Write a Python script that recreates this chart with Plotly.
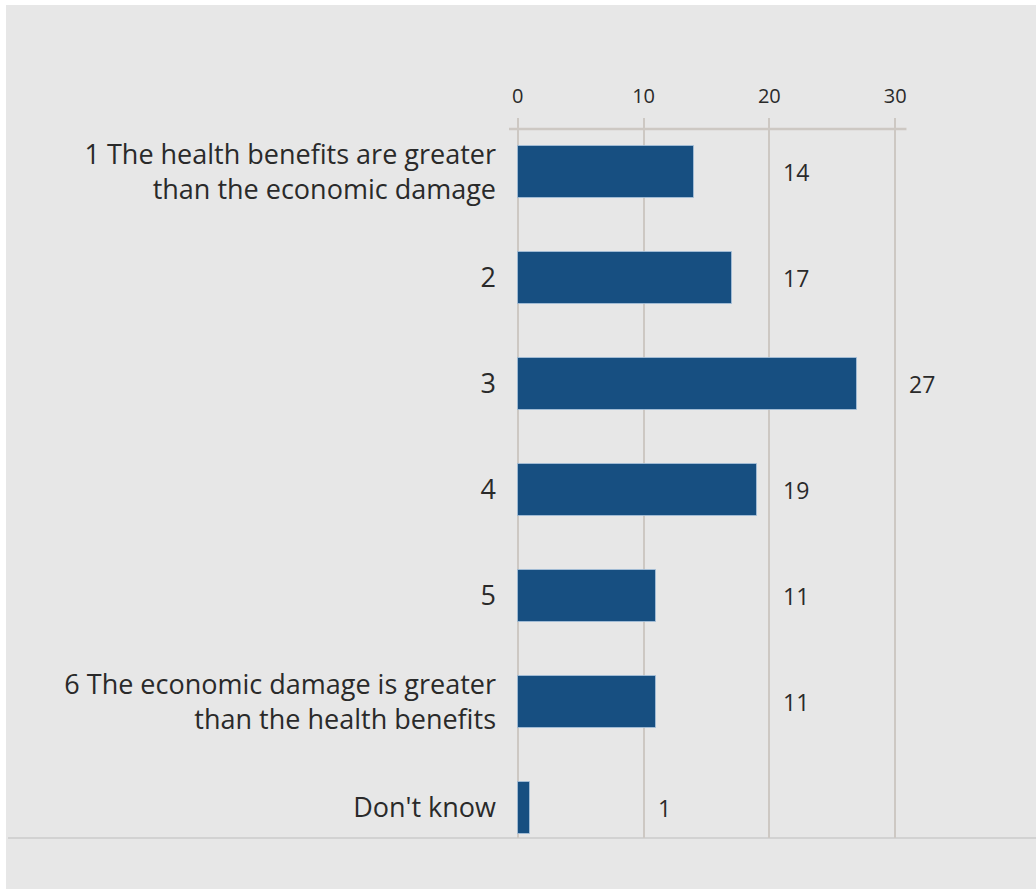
import math
import plotly.graph_objects as go

# Survey answers: health benefits vs. economic damage (percent)
categories = [
    "1 The health benefits are greater<br>than the economic damage",
    "2",
    "3",
    "4",
    "5",
    "6 The economic damage is greater<br>than the health benefits",
    "Don't know",
]
values = [14, 17, 27, 19, 11, 11, 1]
tick_values = [0, 10, 20, 30]
tick_labels = ["0", "10", "20", "30"]

W, H = 1036, 889
# plot-area pixel edges
PL, PR, PT, PB = 509, 1036, 118, 838
PW, PH = PR - PL, PB - PT


def px(xpix):
    return (xpix - PL) / PW


def py(ypix):
    return (PB - ypix) / PH


BAR = "#174f81"
TXT = "#2a2a2a"
GRID = "#cdc8c3"
BG = "#e7e7e7"
FONT = "Open Sans"

fig = go.Figure()
fig.add_trace(go.Bar(
    x=values,
    y=categories,
    orientation="h",
    width=0.49,
    marker=dict(color=BAR, line=dict(color="rgba(170,195,220,0.8)", width=1)),
    hoverinfo="x+y",
))

# value labels sit just past the next gridline (y given as category index)
annotations = []
for i, v in enumerate(values):
    annotations.append(dict(
        x=math.ceil(v / 10) * 10, y=i, xref="x", yref="y",
        text=str(v), showarrow=False, xanchor="left", xshift=12,
        font=dict(family=FONT, size=23, color=TXT),
    ))

shapes = [
    # grey panel with thin white border top/left
    dict(type="rect", xref="paper", yref="paper",
         x0=px(6), x1=px(W), y0=py(H), y1=py(5),
         fillcolor=BG, line=dict(width=0), layer="below"),
    # top axis line
    dict(type="line", xref="x", yref="paper",
         x0=-0.7, x1=30.9, y0=py(129), y1=py(129),
         line=dict(color=GRID, width=2.5), layer="below"),
    # baseline under the chart
    dict(type="line", xref="paper", yref="paper",
         x0=px(8), x1=1, y0=py(838), y1=py(838),
         line=dict(color="#d2d2d2", width=2), layer="below"),
]

fig.update_layout(
    width=W, height=H,
    margin=dict(l=PL, r=W - PR, t=PT, b=H - PB),
    paper_bgcolor="white",
    plot_bgcolor="rgba(0,0,0,0)",
    showlegend=False,
    bargap=0,
    font=dict(family=FONT, color=TXT),
    annotations=annotations,
    shapes=shapes,
    xaxis=dict(
        side="top", range=[-0.7, 41.2],
        tickmode="array", tickvals=tick_values, ticktext=tick_labels,
        showgrid=True, gridcolor=GRID, gridwidth=2,
        zeroline=False, showline=False, ticks="",
        ticklabelstandoff=10,
        tickfont=dict(family=FONT, size=20, color=TXT),
    ),
    yaxis=dict(
        type="category", categoryorder="array", categoryarray=categories,
        range=[6.283, -0.509],
        showgrid=False, zeroline=False, showline=False, ticks="",
        ticklabelstandoff=12,
        tickfont=dict(family=FONT, size=27, color=TXT),
    ),
)

fig.write_html("out.html")
